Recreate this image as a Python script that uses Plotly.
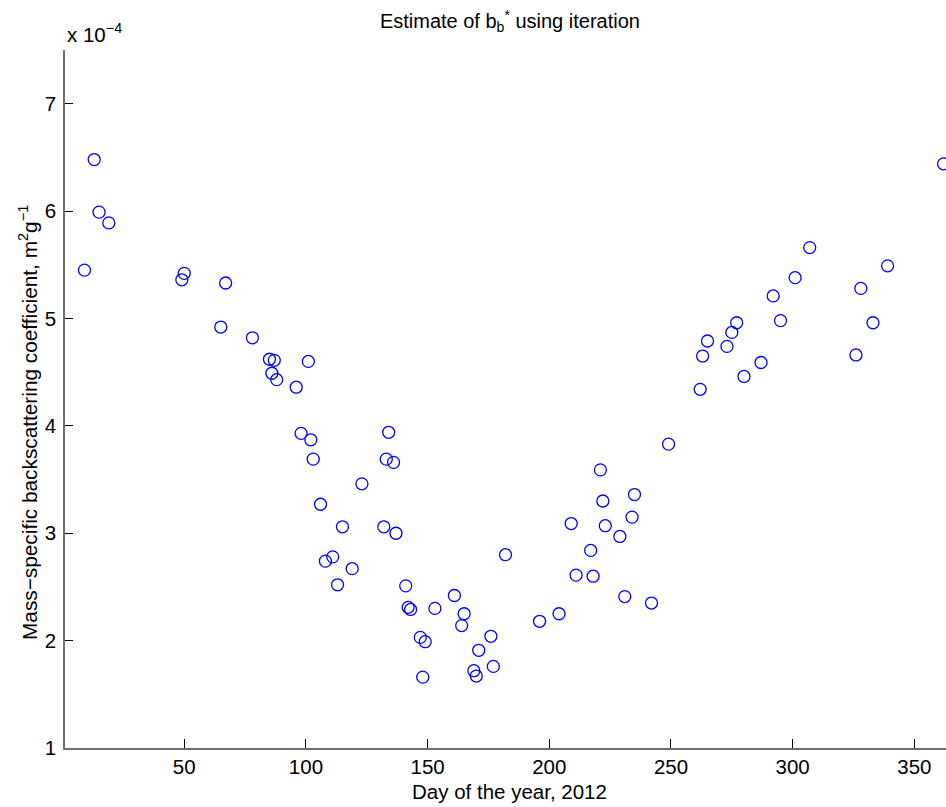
import plotly.graph_objects as go

# Day of year (2012) and estimated mass-specific backscattering coefficient b_b* (m^2 g^-1)
day_of_year = [
    9, 13, 15, 19, 49, 50, 67, 65, 78, 85, 87, 86, 88, 96, 101, 98, 102, 103,
    106, 108, 111, 113, 115, 119, 123, 132, 133, 134, 136, 137, 141, 142, 143,
    147, 149, 148, 153, 161, 164, 165, 169, 170, 171, 176, 177, 182, 196, 204,
    209, 211, 217, 218, 221, 222, 223, 229, 231, 234, 235, 242, 249, 262, 263,
    265, 273, 275, 277, 280, 287, 292, 295, 301, 307, 326, 328, 333, 339, 362,
]
bb_star = [
    5.45e-4, 6.48e-4, 5.99e-4, 5.89e-4, 5.36e-4, 5.42e-4, 5.33e-4, 4.92e-4,
    4.82e-4, 4.62e-4, 4.61e-4, 4.49e-4, 4.43e-4, 4.36e-4, 4.60e-4, 3.93e-4,
    3.87e-4, 3.69e-4, 3.27e-4, 2.74e-4, 2.78e-4, 2.52e-4, 3.06e-4, 2.67e-4,
    3.46e-4, 3.06e-4, 3.69e-4, 3.94e-4, 3.66e-4, 3.00e-4, 2.51e-4, 2.31e-4,
    2.29e-4, 2.03e-4, 1.99e-4, 1.66e-4, 2.30e-4, 2.42e-4, 2.14e-4, 2.25e-4,
    1.72e-4, 1.67e-4, 1.91e-4, 2.04e-4, 1.76e-4, 2.80e-4, 2.18e-4, 2.25e-4,
    3.09e-4, 2.61e-4, 2.84e-4, 2.60e-4, 3.59e-4, 3.30e-4, 3.07e-4, 2.97e-4,
    2.41e-4, 3.15e-4, 3.36e-4, 2.35e-4, 3.83e-4, 4.34e-4, 4.65e-4, 4.79e-4,
    4.74e-4, 4.87e-4, 4.96e-4, 4.46e-4, 4.59e-4, 5.21e-4, 4.98e-4, 5.38e-4,
    5.66e-4, 4.66e-4, 5.28e-4, 4.96e-4, 5.49e-4, 6.44e-4,
]

# Axis ticks
x_ticks = [50, 100, 150, 200, 250, 300, 350]
y_tick_mantissa = [1, 2, 3, 4, 5, 6, 7]
y_exponent = -4
y_ticks = [m * 10.0 ** y_exponent for m in y_tick_mantissa]

FONT = "Liberation Sans, Arial, Helvetica, sans-serif"
AXIS_GREY = "#707070"
TEXT_SIZE = 20.5

fig = go.Figure(
    go.Scatter(
        x=day_of_year,
        y=bb_star,
        mode="markers",
        marker=dict(
            symbol="circle-open",
            size=12,
            color="#0000ff",
            line=dict(width=1.3, color="#0000ff"),
        ),
        showlegend=False,
    )
)

fig.update_layout(
    width=946,
    height=807,
    margin=dict(l=65, r=0, t=50, b=59),
    paper_bgcolor="white",
    plot_bgcolor="white",
    font=dict(family=FONT, size=TEXT_SIZE, color="black"),
    title=dict(
        text="Estimate of b<sub>b</sub><sup>*</sup> using iteration",
        font=dict(family=FONT, size=20, color="black"),
        xref="paper",
        x=0.505,
        xanchor="center",
        yref="container",
        y=1 - 21 / 807,
        yanchor="middle",
    ),
    xaxis=dict(
        range=[1, 363],
        tickvals=x_ticks,
        ticktext=[str(v) for v in x_ticks],
        ticks="inside",
        ticklen=9,
        tickwidth=1,
        tickcolor="black",
        ticklabelstandoff=0,
        showline=True,
        linecolor=AXIS_GREY,
        linewidth=1.5,
        mirror=False,
        showgrid=False,
        zeroline=False,
        tickfont=dict(family=FONT, size=TEXT_SIZE, color="black"),
    ),
    yaxis=dict(
        range=[1e-4, 7.5e-4],
        tickvals=y_ticks,
        ticktext=[str(m) for m in y_tick_mantissa],
        ticks="inside",
        ticklen=8,
        tickwidth=1,
        tickcolor="black",
        ticklabelstandoff=3,
        showline=True,
        linecolor=AXIS_GREY,
        linewidth=1.5,
        mirror=False,
        showgrid=False,
        zeroline=False,
        tickfont=dict(family=FONT, size=TEXT_SIZE, color="black"),
    ),
    annotations=[
        # exponent multiplier for the y axis
        dict(
            text=f"x 10<sup>\u2212{abs(y_exponent)}</sup>",
            xref="paper", yref="paper",
            x=0, y=1 + 17 / 698,
            xanchor="left", yanchor="middle",
            showarrow=False,
            font=dict(family=FONT, size=TEXT_SIZE, color="black"),
        ),
        # x axis title
        dict(
            text="Day of the year, 2012",
            xref="paper", yref="paper",
            x=(509 - 65) / 881, y=-(791 - 748) / 698,
            xanchor="center", yanchor="middle",
            showarrow=False,
            font=dict(family=FONT, size=TEXT_SIZE, color="black"),
        ),
        # y axis title
        dict(
            text="Mass\u2212specific backscattering coefficient, m<sup>2</sup>g<sup>\u22121</sup>",
            xref="paper", yref="paper",
            x=-(65 - 28) / 881, y=(748 - 423) / 698,
            xanchor="center", yanchor="middle",
            textangle=-90,
            showarrow=False,
            font=dict(family=FONT, size=20.8, color="black"),
        ),
    ],
)

fig.write_html("out.html")
